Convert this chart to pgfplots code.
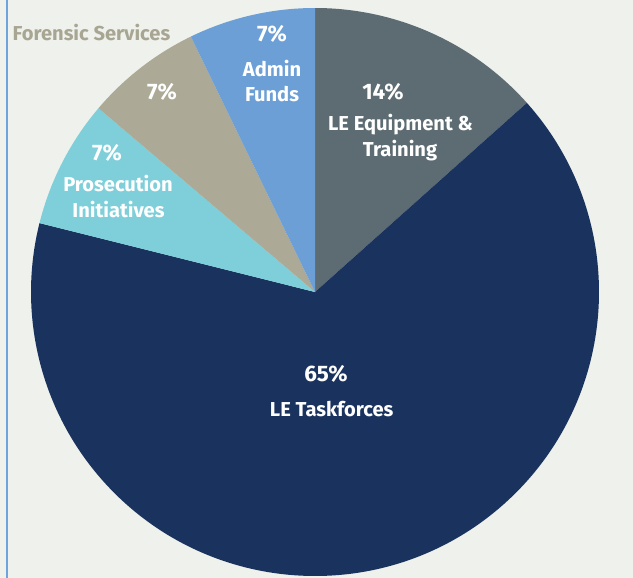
\documentclass[border=0pt]{standalone}
\usepackage{pgfplots}
\usepackage{pgfplotstable}
\pgfplotsset{compat=1.18}
\usepackage{fontspec}
\setmainfont{Fira Sans}
\definecolor{bgc}{HTML}{EEF1EC}
\definecolor{cEquip}{HTML}{5D6B72}
\definecolor{cTask}{HTML}{1A335E}
\definecolor{cPros}{HTML}{7ECFDA}
\definecolor{cFor}{HTML}{ACA996}
\definecolor{cAdm}{HTML}{6C9FD5}
\definecolor{cLine}{HTML}{6FA3DC}
\definecolor{cForTxt}{HTML}{A8A692}

% slices clockwise from 12 o'clock, values in percent
\pgfplotstableread[col sep=comma]{
name,value,color
LE Equipment & Training,13.4,cEquip
LE Taskforces,65.5,cTask
Prosecution Initiatives,7.3,cPros
Forensic Services,6.6,cFor
Admin Funds,7.2,cAdm
}\piedata

\newcommand{\pct}{\fontsize{22.5}{26}\selectfont\bfseries}
\newcommand{\lab}{\fontsize{20.2}{24}\selectfont\bfseries}

\begin{document}
\begin{tikzpicture}
\begin{axis}[
  scale only axis, width=633bp, height=578bp,
  xmin=0, xmax=633, ymin=0, ymax=578, y dir=reverse,
  hide axis, clip=true,
  axis background/.style={fill=bgc},
]
\addplot[draw=none, forget plot] coordinates {(0,0) (633,578)};
\def\angA{90}
\pgfplotsforeachungrouped \i in {0,...,4}{%
  \pgfplotstablegetelem{\i}{value}\of\piedata \let\v\pgfplotsretval
  \pgfplotstablegetelem{\i}{color}\of\piedata \let\c\pgfplotsretval
  \pgfmathsetmacro\angB{\angA - 3.6*\v}%
  \edef\temp{\noexpand\fill[\c] (axis cs:315,292) -- ++(\angA:284bp) arc[start angle=\angA, end angle=\angB, radius=284bp] -- cycle;}%
  \temp
  \global\let\angA\angB
}
\addplot[cLine, line width=2bp] coordinates {(7,0) (7,578)};

\node[anchor=base, text=white, font=\pct] at (axis cs:272,41.7) {7\%};
\node[anchor=base, text=white, font=\lab] at (axis cs:272,76.7) {Admin};
\node[anchor=base, text=white, font=\lab] at (axis cs:272,101.7) {Funds};

\node[anchor=base, text=white, font=\pct] at (axis cs:383,99) {14\%};
\node[anchor=base, text=white, font=\lab] at (axis cs:400.5,130) {LE Equipment \&};
\node[anchor=base, text=white, font=\lab] at (axis cs:400,156) {Training};

\node[anchor=base, text=white, font=\pct] at (axis cs:162,99) {7\%};

\node[anchor=base, text=white, font=\pct] at (axis cs:107,160) {7\%};
\node[anchor=base, text=white, font=\lab] at (axis cs:118,191.7) {Prosecution};
\node[anchor=base, text=white, font=\lab] at (axis cs:118.5,217) {Initiatives};

\node[anchor=base, text=white, font=\pct] at (axis cs:326,381.7) {65\%};
\node[anchor=base, text=white, font=\lab] at (axis cs:331.7,416.7) {LE Taskforces};

\node[anchor=base, text=cForTxt, font=\lab] at (axis cs:91.5,40.7) {Forensic Services};
\end{axis}
\end{tikzpicture}
\end{document}
